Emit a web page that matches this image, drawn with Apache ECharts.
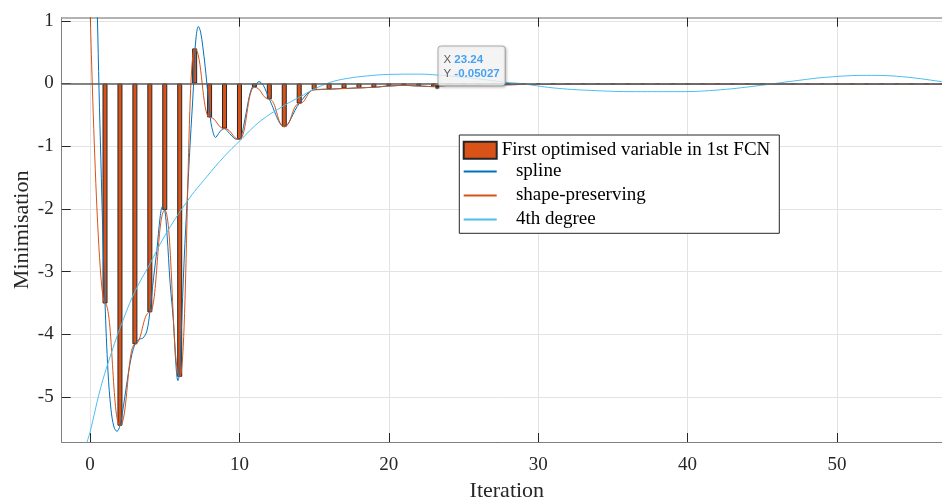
<!DOCTYPE html>
<html>
<head>
<meta charset="utf-8">
<script src="https://cdn.jsdelivr.net/npm/echarts@6/dist/echarts.min.js"></script>
<style>
  html, body { margin: 0; padding: 0; background: #ffffff; }
  #chart { width: 942px; height: 499px; }
</style>
</head>
<body>
<div id="chart"></div>
<script>
// Iterations and the first optimised variable of the 1st FCN
const iterations = [1, 2, 3, 4, 5, 6, 7, 8, 9, 10, 11, 12, 13, 14, 15, 16, 17, 18, 19, 20,
  21, 22, 23, 24, 25, 26, 27, 28, 29, 30, 31, 32, 33, 34, 35, 36, 37, 38, 39, 40,
  41, 42, 43, 44, 45, 46, 47, 48, 49, 50, 51, 52, 53, 54, 55, 56, 57];
const firstVariable = [-3.51, -5.46, -4.16, -3.65, -2.02, -4.68, 0.56, -0.54, -0.72, -0.89,
  -0.06, -0.25, -0.69, -0.32, -0.10, -0.09, -0.08, -0.07, -0.06, -0.04,
  -0.03, -0.04, -0.05, -0.03, -0.03, -0.025, -0.02, -0.02, -0.015, -0.015,
  -0.012, -0.01, -0.01, -0.01, -0.01, -0.01, -0.01, -0.01, -0.01, -0.01,
  -0.01, -0.01, -0.01, -0.01, -0.01, -0.01, -0.01, -0.01, -0.01, -0.01,
  -0.01, -0.01, -0.01, -0.01, -0.01, -0.01, -0.01];
// starting value (iteration 0) used by the interpolating curves
const startIteration = 0;
const startValue = 1.2;

// spline curve samples over the oscillating part (iterations 0 .. 11.6)
const splineX = [0, 0.15, 0.3, 0.42, 0.49, 0.6, 0.72, 0.86, 1, 1.2, 1.4, 1.6, 1.8, 2, 2.2, 2.45,
  2.68, 3, 3.3, 3.55, 3.8, 4, 4.25, 4.47, 4.69, 4.85, 5, 5.15, 5.36, 5.58, 5.75, 5.88,
  6, 6.1, 6.3, 6.5, 6.7, 6.92, 7, 7.1, 7.25, 7.4, 7.55, 7.7, 7.9, 8.05, 8.15, 8.4,
  8.6, 8.8, 9, 9.2, 9.5, 9.8, 10, 10.27, 10.6, 10.85, 11, 11.3, 11.6];
const splineY = [1.2, 1.9, 2.0, 1.6, 1.05, -0.1, -1.2, -2.45, -3.51, -4.6, -5.2, -5.48, -5.55, -5.46, -5.2, -4.8,
  -4.46, -4.16, -4.08, -4.06, -3.95, -3.65, -3.1, -2.66, -2.13, -1.96, -2.02, -2.4, -3.19, -3.8, -4.5, -4.74,
  -4.6, -4.0, -2.8, -1.85, -0.95, -0.05, 0.42, 0.75, 0.91, 0.82, 0.58, 0.28, -0.2, -0.55, -0.7, -0.86,
  -0.8, -0.74, -0.72, -0.76, -0.84, -0.89, -0.89, -0.69, -0.27, -0.06, -0.05, 0.03, -0.03];

// 4th degree fit samples
const polyX = [-0.25, 0, 0.67, 1.34, 2.12, 3, 4, 5, 6.5, 7.8, 9, 10, 11.4, 13, 14, 15, 16.1, 17.2,
  18.5, 20, 22, 23.5, 25, 26.5, 27.8, 28.8, 31, 33.5, 36.5, 39.5, 42.2, 44.9, 47.1, 49.3,
  52, 54.3, 57, 57.7];
const polyY = [-5.75, -5.56, -4.89, -4.36, -3.83, -3.32, -2.88, -2.43, -1.88, -1.49, -1.16, -0.92, -0.6, -0.35, -0.22, -0.09, 0.02, 0.08,
  0.12, 0.145, 0.15, 0.13, 0.1, 0.06, 0.02, 0.0, -0.07, -0.11, -0.13, -0.13, -0.1, -0.03, 0.04, 0.1,
  0.13, 0.11, 0.03, 0.0];

// data tip
const tipX = 23.24;
const tipY = -0.05027;

// axis ticks
const xTicks = [0, 10, 20, 30, 40, 50];
const yTicks = [-5, -4, -3, -2, -1, 0, 1];

const barName = 'First optimised variable in 1st FCN';
const serif = "'Liberation Serif', 'Times New Roman', serif";
const sans = "'Liberation Sans', Arial, sans-serif";
const textDark = '#262626';
const colors = { bar: '#D95319', spline: '#0072BD', pchip: '#D95319', poly: '#4DBEEE' };

const barData = iterations.map((x, i) => [x, firstVariable[i]]);
const splineData = splineX.map((x, i) => [x, splineY[i]])
  .concat(barData.filter(p => p[0] >= 12));
const pchipData = [[startIteration, startValue]].concat(barData);
const polyData = polyX.map((x, i) => [x, polyY[i]]);

const chart = echarts.init(document.getElementById('chart'), null, { renderer: 'canvas' });

const xBase = {
  type: 'value', min: -1.9, max: 57.7,
  axisTick: { show: true, inside: true, length: 9, customValues: xTicks, lineStyle: { color: textDark, width: 1 } },
  axisLabel: { customValues: xTicks }
};

chart.setOption({
  animation: false,
  backgroundColor: '#ffffff',
  grid: { left: 61.7, right: -10, top: 17.7, bottom: 57, containLabel: false, outerBoundsMode: 'none' },
  xAxis: [
    Object.assign({}, xBase, {
      position: 'bottom',
      name: 'Iteration', nameLocation: 'middle', nameGap: 38,
      nameTextStyle: { fontFamily: serif, fontSize: 22, color: textDark },
      axisLine: { show: true, onZero: false, lineStyle: { color: '#808080', width: 1 } },
      axisLabel: { customValues: xTicks, fontFamily: serif, fontSize: 19, color: textDark, margin: 14 },
      splitLine: { show: true, lineStyle: { color: '#e3e3e3', width: 1 } }
    }),
    Object.assign({}, xBase, {
      position: 'top',
      axisLine: { show: true, onZero: false, lineStyle: { color: '#9a9a9a', width: 1.5 } },
      axisLabel: { show: false, customValues: xTicks },
      splitLine: { show: false }
    })
  ],
  yAxis: {
    type: 'value', min: -5.72, max: 1.05,
    name: 'Minimisation', nameLocation: 'middle', nameGap: 28, nameMoveOverlap: false,
    nameTextStyle: { fontFamily: serif, fontSize: 22, color: textDark },
    axisLine: { show: true, onZero: false, lineStyle: { color: '#808080', width: 1 } },
    axisTick: { show: true, inside: true, length: 9, customValues: yTicks, lineStyle: { color: textDark, width: 1 } },
    axisLabel: { customValues: yTicks, fontFamily: serif, fontSize: 19, color: textDark, margin: 8 },
    splitLine: { show: true, lineStyle: { color: '#e3e3e3', width: 1 } }
  },
  legend: [
    {
      data: [{ name: barName, icon: 'rect' }],
      left: 462.7, top: 140.7, padding: 0,
      itemWidth: 33, itemHeight: 17,
      textStyle: { fontFamily: serif, fontSize: 19, color: '#000000' },
      z: 6
    },
    {
      // line-series legend icons: a plain line segment in the series colour
      data: ['spline', 'shape-preserving', '4th degree'],
      orient: 'vertical',
      left: 462.7, top: 162, padding: 0,
      itemWidth: 33, itemHeight: 1, itemGap: 5,
      formatter: name => '   ' + name,
      textStyle: { fontFamily: serif, fontSize: 19, color: '#000000' },
      z: 6
    }
  ],
  graphic: [
    {
      type: 'rect', z: 5,
      shape: { x: 459.3, y: 135, width: 320, height: 98.3 },
      style: { fill: '#ffffff', stroke: textDark, lineWidth: 1 }
    }
  ],
  series: [
    {
      name: barName, type: 'bar',
      data: barData, barWidth: 5,
      itemStyle: { color: colors.bar, borderColor: '#262626', borderWidth: 1 },
      markLine: {
        silent: true, symbol: 'none', label: { show: false },
        lineStyle: { color: '#5f5f5f', width: 1.5, type: 'solid' },
        data: [{ yAxis: 0 }]
      }
    },
    {
      name: 'spline', type: 'line', data: splineData,
      showSymbol: false, symbol: 'none', smooth: 0.35,
      lineStyle: { color: colors.spline, width: 1 }, itemStyle: { color: colors.spline }
    },
    {
      name: 'shape-preserving', type: 'line', data: pchipData,
      showSymbol: false, symbol: 'none', smooth: 0.5, smoothMonotone: 'x',
      lineStyle: { color: colors.pchip, width: 1 }, itemStyle: { color: colors.pchip }
    },
    {
      name: '4th degree', type: 'line', data: polyData,
      showSymbol: false, symbol: 'none', smooth: 0.4,
      lineStyle: { color: colors.poly, width: 1 }, itemStyle: { color: colors.poly }
    },
    {
      name: 'data tip', type: 'scatter', data: [[tipX, tipY]],
      symbol: 'circle', symbolSize: 5, z: 10,
      itemStyle: { color: '#1a1a1a', borderColor: '#ffffcc', borderWidth: 0.5 },
      label: {
        show: true, position: [4, -37.5],
        formatter: p => 'X {v|' + p.value[0] + '}\nY {v|' + p.value[1] + '}',
        fontFamily: sans, fontSize: 11.5, lineHeight: 14,
        color: '#333333',
        backgroundColor: 'rgba(255,255,255,0.96)', borderColor: '#a6a6a6', borderWidth: 1, borderRadius: 3,
        padding: [6, 5, 5, 5],
        shadowColor: 'rgba(0,0,0,0.25)', shadowBlur: 3, shadowOffsetX: 1, shadowOffsetY: 1,
        rich: { v: { fontFamily: sans, fontSize: 11.5, fontWeight: 'bold', color: '#1a8cf0', lineHeight: 14 } }
      }
    }
  ]
});
</script>
</body>
</html>
